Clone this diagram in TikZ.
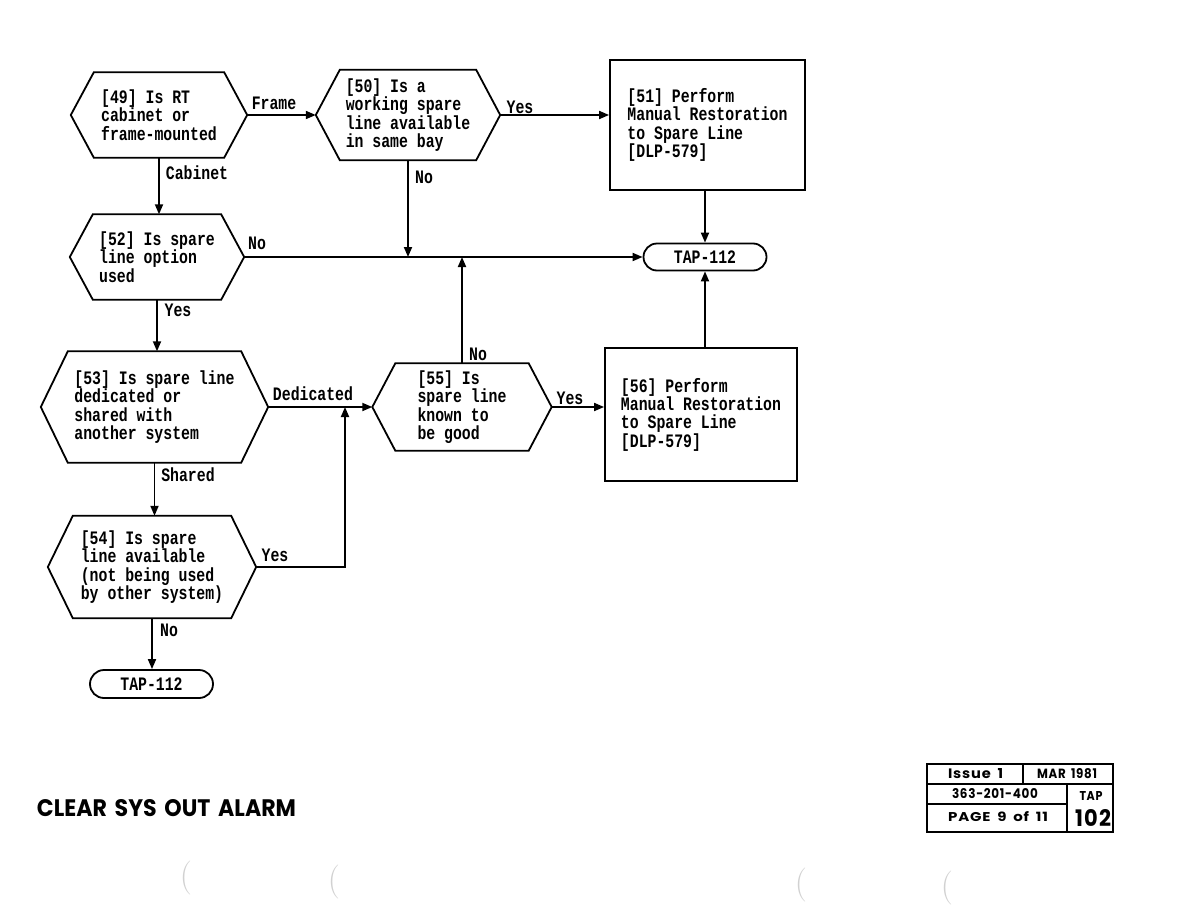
\documentclass[tikz,border=0pt]{standalone}
\usepackage{fontspec}
\usetikzlibrary{calc,shapes.misc,arrows.meta}
\newfontfamily\tw{Liberation Mono}[FakeStretch=0.78]
\newfontfamily\blk{Poppins}[LetterSpace=6]
\newfontfamily\blkt{Poppins}
\newcommand\twfont{\tw\bfseries\fontsize{19}{18.3}\selectfont}
\newcommand\fitbox[3]{\resizebox{#1pt}{#2pt}{\blk\bfseries #3}}
\newcommand\wsp{\hspace{0.45em}}
\tikzset{
  line/.style={line width=1.8pt},
  arr/.style={line width=1.8pt, -{Triangle[length=10pt, width=8pt]}},
  hexbody/.style={rectangle, draw=none, inner sep=0pt, align=left, font=\twfont},
  procbox/.style={rectangle, draw, line width=1.8pt, align=left, inner sep=0pt, font=\twfont},
  term/.style={rounded rectangle, draw, line width=1.8pt, minimum width=123pt, minimum height=27pt, inner sep=0pt, font=\twfont},
  lbl/.style={inner sep=0pt, font=\twfont},
  tb/.style={line width=1.6pt},
  tbtext/.style={inner sep=0pt},
  scanmark/.style={inner sep=0pt, text=black!18, font=\fontsize{34}{34}\selectfont}
}
\newcommand\hexq[6]{%
  \node[hexbody, minimum width=#3pt, minimum height=#4pt] (#1) at (#2) {#6};
  \draw[line, line join=miter] (#1.north west) -- (#1.north east) -- ($(#1.east)+(#5,0)$) coordinate (#1e)
    -- (#1.south east) -- (#1.south west) -- ($(#1.west)-(#5,0)$) coordinate (#1w) -- cycle;}
\begin{document}
\begin{tikzpicture}[x=1pt,y=-1pt]
\fill[white] (0,0) rectangle (1188,918);
\useasboundingbox (0,0) rectangle (1188,918);

% decisions
\hexq{h49}{159,115}{130}{85}{23}{[49] Is RT\\cabinet or\\frame-mounted}
\hexq{h50}{408,115}{136}{90}{24}{[50] Is a\\working spare\\line available\\in same bay}
\hexq{h52}{157,257}{128}{85}{23}{[52] Is spare\\line option\\used}
\hexq{h53}{154.5,407}{173}{111}{27}{[53] Is spare line\\dedicated or\\shared with\\another system}
\hexq{h55}{462,407}{133}{87}{23}{[55] Is\\spare line\\known to\\be good}
\hexq{h54}{152,567}{158}{102}{25}{[54] Is spare\\line available\\(not being used\\by other system)}

% process boxes
\node[procbox, minimum width=195pt, minimum height=130pt] (b51) at (707.5,125) {[51] Perform\\Manual Restoration\\to Spare Line\\{[DLP-579]}};
\node[procbox, minimum width=192pt, minimum height=133pt] (b56) at (701,414.5) {[56] Perform\\Manual Restoration\\to Spare Line\\{[DLP-579]}};

% terminals
\node[term] (t1) at (705,257) {TAP-112};
\node[term, minimum height=28pt] (t2) at (151.5,684) {TAP-112};

% connectors
\draw[arr] (h49e) -- (h50w);
\draw[arr] (h50e) -- (h50e -| b51.west);
\draw[arr] (t1.north |- b51.south) -- (t1.north);
\draw[arr] (h49.south) -- (h49.south |- h52.north);
\draw[arr] (h52e) -- (t1.west);
\draw[arr] (h50.south) -- (h50.south |- h52e);
\draw[arr] (h55.north) -- (h55.north |- h52e);
\draw[arr] (h52.south) -- (h52.south |- h53.north);
\draw[arr] (h53e) -- (h55w);
\draw[arr] (h55e) -- (h55e -| b56.west);
\draw[arr] (t1.south |- b56.north) -- (t1.south);
\draw[arr] (h53.south) -- (h53.south |- h54.north);
\coordinate (j54) at (345,0);
\draw[arr] (h54e) -| (h53e -| j54);
\draw[arr] (h54.south) -- (h54.south |- t2.north);

% connector labels
\node[lbl] (lFrame) at (274,103) {Frame};
\node[lbl] (lYes50) at (520,107) {Yes};
\node[lbl] (lCab) at (197,173) {Cabinet};
\node[lbl] (lNo52) at (257,243) {No};
\node[lbl] (lNo50) at (424,177) {No};
\node[lbl] (lNo55) at (478,354) {No};
\node[lbl] (lYes52) at (178,310) {Yes};
\node[lbl] (lDed) at (313,394) {Dedicated};
\node[lbl] (lYes55) at (570,398) {Yes};
\node[lbl] (lShared) at (188,475) {Shared};
\node[lbl] (lYes54) at (275,555) {Yes};
\node[lbl] (lNo54) at (169,630) {No};

% title
\node[tbtext] (title) at (166.5,808.5) {\resizebox{259pt}{17pt}{\blkt\bfseries CLEAR\hspace{0.35em}SYS\hspace{0.35em}OUT\hspace{0.35em}ALARM}};

% title block
\draw[tb] (927,764) rectangle (1113,832);
\draw[tb] (927,784) -- (1113,784);
\draw[tb] (1023,764) -- (1023,784);
\draw[tb] (927,804) -- (1067,804);
\draw[tb] (1067,784) -- (1067,832);
\node[tbtext] (tIssue) at (975.5,773.5) {\fitbox{55}{10}{Issue\wsp 1}};
\node[tbtext] (tDate) at (1067,773.5) {\fitbox{60}{10}{MAR\wsp 1981}};
\node[tbtext] (tNum) at (995,793.5) {\fitbox{86}{10}{363-201-400}};
\node[tbtext] (tTap) at (1091,796) {\fitbox{23}{9}{TAP}};
\node[tbtext] (tPage) at (998,817) {\fitbox{100}{10}{PAGE\wsp 9\wsp of\wsp 11}};
\node[tbtext] (tNo) at (1093,818) {\fitbox{36}{17}{102}};

% faint scan marks
\node[scanmark] (m1) at (186,878) {(};
\node[scanmark] (m2) at (334,882) {(};
\node[scanmark] (m3) at (801,885) {(};
\node[scanmark] (m4) at (947,888) {(};
\end{tikzpicture}
\end{document}
